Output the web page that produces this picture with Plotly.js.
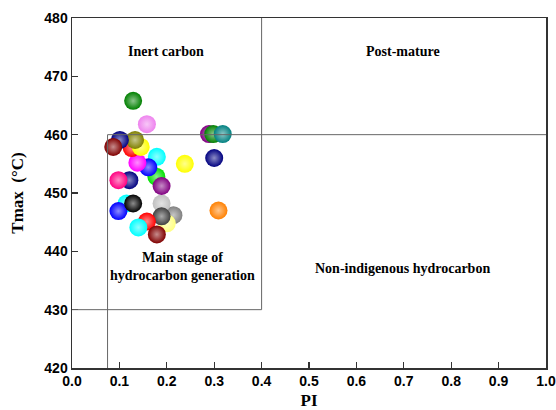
<!DOCTYPE html>
<html>
<head>
<meta charset="utf-8">
<script src="https://cdn.plot.ly/plotly-3.0.1.min.js"></script>
<style>html,body{margin:0;padding:0;background:#fff;}#chart{width:556px;height:410px;}</style>
</head>
<body>
<div id="chart"></div>
<script>
// Sample values (drawing order: later points on top)
const piValues = [0.214, 0.189, 0.200, 0.189, 0.158, 0.140, 0.179, 0.115, 0.098, 0.129,
                  0.178, 0.189, 0.121, 0.098, 0.179, 0.161, 0.138, 0.126, 0.145, 0.133,
                  0.101, 0.087, 0.129, 0.158, 0.238, 0.289, 0.298, 0.318, 0.300, 0.309];
const tmaxValues = [446.2, 448.2, 444.8, 446.0, 445.1, 444.1, 442.9, 448.2, 446.9, 448.2,
                    452.8, 451.2, 452.2, 452.2, 456.2, 454.4, 455.2, 457.7, 457.9, 459.1,
                    459.1, 457.9, 465.8, 461.8, 455.0, 460.1, 460.1, 460.1, 456.0, 447.0];
const pointColors = ['#808080', '#c0c0c0', '#ffff80', '#404040', '#ff0000', '#00ffff', '#800000', '#00ffff', '#0000ff', '#000000',
                     '#00e000', '#800080', '#000080', '#ff0080', '#00ffff', '#0000ff', '#ff00ff', '#ff0000', '#ffff00', '#808000',
                     '#000080', '#800000', '#008000', '#ee82ee', '#ffff00', '#800080', '#008000', '#008080', '#000080', '#ff8000'];

// Zone boundaries
const piBounds = [0.075, 0.4];
const tmaxBounds = [430, 460];
const xRange = [0, 1.0];
const yRange = [420, 480];

// Zone labels
const zoneLabels = ['Inert carbon', 'Post-mature', 'Main stage of<br>hydrocarbon generation', 'Non-indigenous hydrocarbon'];
const zoneLabelX = [0.198, 0.698, 0.234, 0.697];
const zoneLabelY = [474.3, 474.2, 437.4, 437.1];

function tint(hex, f) {
  const r = parseInt(hex.slice(1, 3), 16), g = parseInt(hex.slice(3, 5), 16), b = parseInt(hex.slice(5, 7), 16);
  const m = c => Math.round(c + (255 - c) * f);
  return 'rgb(' + m(r) + ',' + m(g) + ',' + m(b) + ')';
}

const trace = {
  type: 'scatter', mode: 'markers',
  x: piValues, y: tmaxValues,
  marker: {
    size: 18,
    color: pointColors,
    line: {width: 0},
    gradient: {type: 'radial', color: pointColors.map(c => tint(c, 0.55))}
  },
  hoverinfo: 'x+y', showlegend: false
};

const lineStyle = {color: '#666', width: 1};
const shapes = [
  {type: 'line', xref: 'x', yref: 'y', x0: xRange[0], x1: piBounds[1], y0: tmaxBounds[0], y1: tmaxBounds[0], line: lineStyle},
  {type: 'line', xref: 'x', yref: 'y', x0: piBounds[1], x1: piBounds[1], y0: tmaxBounds[0], y1: yRange[1], line: lineStyle},
  {type: 'line', xref: 'x', yref: 'y', x0: piBounds[0], x1: piBounds[0], y0: yRange[0], y1: tmaxBounds[1], line: lineStyle},
  {type: 'line', xref: 'x', yref: 'y', x0: piBounds[0], x1: xRange[1], y0: tmaxBounds[1], y1: tmaxBounds[1], line: lineStyle}
];

const annotations = zoneLabels.map((t, i) => ({
  text: '<b>' + t + '</b>', x: zoneLabelX[i], y: zoneLabelY[i], xref: 'x', yref: 'y',
  showarrow: false, font: {family: 'Liberation Serif, Times New Roman, serif', size: 14, color: '#000'}
}));

const axisCommon = {
  showgrid: false, zeroline: false, showline: true, mirror: true,
  linecolor: '#333', linewidth: 1.5,
  ticks: 'inside', ticklen: 6, tickwidth: 1.2, tickcolor: '#333',
  tickfont: {family: 'Liberation Sans, Arial, sans-serif', size: 14, color: '#000', weight: 'bold'}
};

const layout = {
  width: 556, height: 410,
  margin: {l: 72, r: 10, t: 18, b: 42},
  paper_bgcolor: '#fff', plot_bgcolor: '#fff',
  xaxis: Object.assign({}, axisCommon, {
    range: xRange, dtick: 0.1, tick0: 0, tickformat: '.1f',
    title: {text: '<b>PI</b>', font: {family: 'Liberation Serif, Times New Roman, serif', size: 17, color: '#000'}, standoff: 9}
  }),
  yaxis: Object.assign({}, axisCommon, {
    range: yRange, dtick: 10, tick0: 420,
    title: {text: '<b>Tmax  (°C)</b>', font: {family: 'Liberation Serif, Times New Roman, serif', size: 17, color: '#000'}, standoff: 16}
  }),
  shapes: shapes,
  annotations: annotations
};

Plotly.newPlot('chart', [trace], layout, {displayModeBar: false, staticPlot: true});
</script>
</body>
</html>
